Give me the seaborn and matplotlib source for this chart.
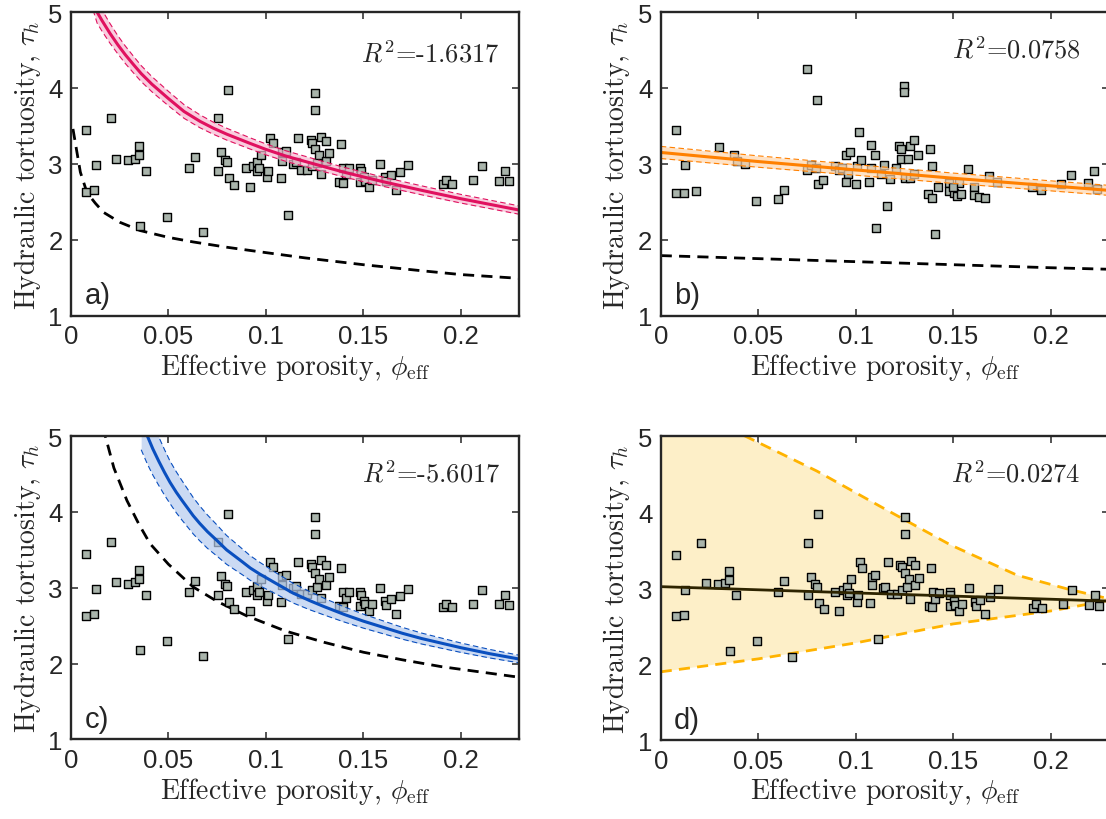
import numpy as np
import matplotlib
matplotlib.use("Agg")
import matplotlib.pyplot as plt
import seaborn as sns

# -----------------------------------
# DATA
# -----------------------------------
# samples used in panels a), c), d)
phi_eff = [0.0079, 0.0079, 0.0120, 0.0127, 0.0207, 0.0233, 0.0293, 0.0330, 0.0351, 0.0351,
           0.0384, 0.0356, 0.0495, 0.0603, 0.0635, 0.0675, 0.0755, 0.0755, 0.0772, 0.0791,
           0.0800, 0.0808, 0.0812, 0.0837, 0.0896, 0.0916, 0.0933, 0.0954, 0.0954, 0.0966,
           0.0976, 0.1007, 0.1010, 0.1021, 0.1034, 0.1075, 0.1084, 0.1101, 0.1084, 0.1113,
           0.1139, 0.1152, 0.1164, 0.1182, 0.1212, 0.1229, 0.1238, 0.1238, 0.1252, 0.1252,
           0.1252, 0.1264, 0.1272, 0.1281, 0.1284, 0.1307, 0.1307, 0.1325, 0.1377, 0.1394,
           0.1387, 0.1397, 0.1409, 0.1428, 0.1483, 0.1486, 0.1483, 0.1503, 0.1510, 0.1529,
           0.1546, 0.1584, 0.1610, 0.1616, 0.1640, 0.1666, 0.1687, 0.1729, 0.1909, 0.1925,
           0.1957, 0.2062, 0.2111, 0.2197, 0.2228, 0.2248]
tau_h = [3.44, 2.63, 2.65, 2.98, 3.60, 3.07, 3.05, 3.07, 3.11, 3.23,
         2.91, 2.18, 2.30, 2.95, 3.09, 2.10, 3.60, 2.91, 3.15, 3.05,
         3.02, 3.97, 2.81, 2.72, 2.95, 2.70, 2.97, 3.02, 2.91, 2.94,
         3.12, 2.82, 2.91, 3.34, 3.27, 2.81, 3.15, 3.17, 3.04, 2.33,
         3.00, 3.02, 3.34, 2.92, 2.92, 3.31, 3.28, 2.97, 3.93, 3.71,
         3.20, 3.01, 3.12, 2.86, 3.36, 3.30, 3.04, 3.14, 2.76, 2.75,
         3.26, 2.95, 2.86, 2.94, 2.95, 2.91, 2.76, 2.83, 2.78, 2.70,
         2.79, 3.00, 2.82, 2.77, 2.85, 2.66, 2.89, 2.99, 2.74, 2.79,
         2.74, 2.79, 2.97, 2.78, 2.91, 2.77]

# samples used in panel b)
phi_eff_b = [0.0077, 0.0077, 0.0119, 0.0126, 0.0179, 0.0297, 0.0375, 0.0389, 0.0432, 0.0491,
             0.0600, 0.0633, 0.0751, 0.0803, 0.0751, 0.0769, 0.0795, 0.0807, 0.0834, 0.0892,
             0.0913, 0.0928, 0.0952, 0.0971, 0.0962, 0.0952, 0.1003, 0.1006, 0.1017, 0.1030,
             0.1071, 0.1080, 0.1080, 0.1097, 0.1107, 0.1146, 0.1131, 0.1161, 0.1177, 0.1206,
             0.1221, 0.1233, 0.1279, 0.1300, 0.1235, 0.1267, 0.1320, 0.1380, 0.1247, 0.1247,
             0.1254, 0.1279, 0.1300, 0.1390, 0.1423, 0.1373, 0.1392, 0.1406, 0.1477, 0.1477,
             0.1506, 0.1522, 0.1540, 0.1532, 0.1501, 0.1576, 0.1609, 0.1609, 0.1634, 0.1662,
             0.1682, 0.1723, 0.1904, 0.1950, 0.2054, 0.2103, 0.2190, 0.2223, 0.2240]
tau_h_b = [3.44, 2.61, 2.62, 2.98, 2.64, 3.22, 3.11, 3.04, 3.00, 2.51,
           2.54, 2.66, 4.25, 3.84, 2.92, 2.99, 2.95, 2.74, 2.79, 2.97,
           2.92, 2.94, 3.12, 3.15, 2.87, 2.76, 2.74, 2.97, 3.42, 3.05,
           2.76, 2.94, 3.25, 3.11, 2.15, 2.99, 2.86, 2.45, 2.80, 2.95,
           3.23, 3.20, 3.23, 3.32, 3.07, 3.07, 3.11, 3.20, 4.02, 3.95,
           2.81, 2.81, 2.87, 2.97, 2.69, 2.60, 2.55, 2.08, 2.75, 2.64,
           2.62, 2.57, 2.60, 2.75, 2.70, 2.93, 2.69, 2.59, 2.56, 2.55,
           2.84, 2.76, 2.70, 2.65, 2.73, 2.85, 2.75, 2.90, 2.67]

# panel a) fitted model (with band half width) and reference model
fit_a_x = [0.010, 0.0134, 0.016, 0.020, 0.024, 0.0278, 0.032, 0.036, 0.0415, 0.050, 0.058, 0.0662,
           0.073, 0.080, 0.0918, 0.100, 0.1105, 0.1259, 0.140, 0.160, 0.180, 0.200, 0.215, 0.230]
fit_a_y = [5.30, 5.00, 4.885, 4.72, 4.57, 4.44, 4.31, 4.19, 4.05, 3.86, 3.69, 3.56,
           3.47, 3.39, 3.27, 3.19, 3.10, 2.99, 2.89, 2.765, 2.65, 2.54, 2.465, 2.39]
fit_a_hw = [0.16, 0.145, 0.14, 0.13, 0.12, 0.115, 0.11, 0.105, 0.10, 0.095, 0.09, 0.085,
            0.08, 0.078, 0.074, 0.072, 0.07, 0.067, 0.064, 0.061, 0.059, 0.057, 0.056, 0.055]
ref_a_x = [0.001, 0.0048, 0.0082, 0.0125, 0.0167, 0.025, 0.0355, 0.050,
           0.0627, 0.080, 0.0969, 0.120, 0.150, 0.180, 0.200, 0.230]
ref_a_y = [3.46, 2.89, 2.62, 2.48, 2.36, 2.23, 2.12, 2.03,
           1.97, 1.90, 1.84, 1.76, 1.67, 1.59, 1.54, 1.49]

# panel b)
fit_b_x = [0.0, 0.05, 0.10, 0.15, 0.20, 0.23]
fit_b_y = [3.15, 3.03, 2.92, 2.81, 2.71, 2.65]
fit_b_hw = [0.08, 0.075, 0.07, 0.068, 0.066, 0.066]
ref_b_x = [0.0, 0.05, 0.10, 0.15, 0.20, 0.23]
ref_b_y = [1.79, 1.75, 1.71, 1.67, 1.63, 1.61]

# panel c)
fit_c_x = [0.036, 0.0392, 0.042, 0.045, 0.048, 0.0508, 0.054, 0.057, 0.0627, 0.066,
           0.070, 0.075, 0.0798, 0.088, 0.092, 0.0969, 0.105, 0.1139, 0.1225, 0.130,
           0.140, 0.150, 0.160, 0.170, 0.180, 0.190, 0.200, 0.215, 0.230]
fit_c_y = [5.22, 5.00, 4.83, 4.67, 4.52, 4.39, 4.26, 4.15, 3.95, 3.85,
           3.74, 3.62, 3.50, 3.34, 3.26, 3.18, 3.06, 2.93, 2.83, 2.75,
           2.65, 2.56, 2.48, 2.40, 2.33, 2.27, 2.21, 2.13, 2.06]
fit_c_hw = [0.40, 0.37, 0.345, 0.32, 0.30, 0.28, 0.27, 0.26, 0.24, 0.23,
            0.22, 0.205, 0.19, 0.17, 0.162, 0.155, 0.14, 0.13, 0.12, 0.11,
            0.10, 0.092, 0.085, 0.078, 0.072, 0.067, 0.062, 0.056, 0.05]
ref_c_x = [0.0165, 0.0176, 0.022, 0.0287, 0.035, 0.0406, 0.050, 0.0627, 0.075,
           0.0901, 0.110, 0.130, 0.150, 0.170, 0.190, 0.210, 0.230]
ref_c_y = [5.12, 5.00, 4.58, 4.15, 3.83, 3.58, 3.31, 3.01, 2.82,
           2.63, 2.43, 2.28, 2.15, 2.05, 1.96, 1.89, 1.82]

# panel d) linear fit and envelope
fit_d_x = [0.0, 0.23]
fit_d_y = [3.02, 2.83]
env_up_x = [0.0, 0.0433, 0.0801, 0.1144, 0.1486, 0.1829, 0.2086, 0.230]
env_up_y = [5.50, 5.00, 4.54, 4.05, 3.57, 3.17, 2.99, 2.86]
env_lo_x = [0.0, 0.05, 0.10, 0.15, 0.20, 0.23]
env_lo_y = [1.90, 2.07, 2.28, 2.53, 2.70, 2.84]

r2_text = ["-1.6317", "0.0758", "-5.6017", "0.0274"]
panel_tags = ["a)", "b)", "c)", "d)"]
x_ticks = [0, 0.05, 0.1, 0.15, 0.2]
x_tick_labels = ["0", "0.05", "0.1", "0.15", "0.2"]
y_ticks = [1, 2, 3, 4, 5]

# -----------------------------------
# STYLE
# -----------------------------------
sns.set_style("ticks")
plt.rcParams["font.family"] = ["Liberation Sans", "DejaVu Sans"]
plt.rcParams["mathtext.fontset"] = "cm"
plt.rcParams["axes.unicode_minus"] = False
plt.rcParams["xtick.direction"] = "in"
plt.rcParams["ytick.direction"] = "in"

marker_face = "#a9b4ab"
pink = "#e0115f"
pink_fill = "#f7b9d0"
orange = "#ff8000"
orange_fill = "#ffd6ad"
blue = "#0a4fbf"
blue_fill = "#b5cbee"
gold = "#ffb300"
gold_fill = "#fdefc8"
dark = "#2e2400"

fig = plt.figure(figsize=(11.06, 8.2), dpi=100)

rects = [
    [0.0642, 0.614, 0.4053, 0.370],
    [0.5974, 0.614, 0.4053, 0.370],
    [0.0642, 0.097, 0.4053, 0.370],
    [0.5974, 0.096, 0.4053, 0.371],
]
r2_pos = [(0.955, 0.865), (0.937, 0.878), (0.957, 0.879), (0.935, 0.879)]

axes = [fig.add_axes(r) for r in rects]


def draw_points(ax, x, y):
    sns.scatterplot(x=x, y=y, ax=ax, marker="s", s=32, color=marker_face,
                    edgecolor="black", linewidth=1.0, zorder=3, legend=False)


def draw_band(ax, x, y, hw, line_color, fill_color):
    x = np.array(x)
    y = np.array(y)
    hw = np.array(hw)
    ax.fill_between(x, y - hw, y + hw, color=fill_color, alpha=0.7, lw=0, zorder=4)
    ax.plot(x, y - hw, color=line_color, lw=0.8, ls=(0, (5, 3)), zorder=5)
    ax.plot(x, y + hw, color=line_color, lw=0.8, ls=(0, (5, 3)), zorder=5)
    sns.lineplot(x=x, y=y, ax=ax, color=line_color, lw=2.2,
                 estimator=None, sort=False, zorder=6)


def draw_ref(ax, x, y):
    sns.lineplot(x=x, y=y, ax=ax, color="black", lw=2.0, linestyle=(0, (4, 2.6)),
                 estimator=None, sort=False, zorder=2)


# -----------------------------------
# PANEL a)
# -----------------------------------
ax = axes[0]
draw_points(ax, phi_eff, tau_h)
draw_ref(ax, ref_a_x, ref_a_y)
draw_band(ax, fit_a_x, fit_a_y, fit_a_hw, pink, pink_fill)

# -----------------------------------
# PANEL b)
# -----------------------------------
ax = axes[1]
draw_points(ax, phi_eff_b, tau_h_b)
draw_ref(ax, ref_b_x, ref_b_y)
draw_band(ax, fit_b_x, fit_b_y, fit_b_hw, orange, orange_fill)

# -----------------------------------
# PANEL c)
# -----------------------------------
ax = axes[2]
draw_points(ax, phi_eff, tau_h)
draw_ref(ax, ref_c_x, ref_c_y)
draw_band(ax, fit_c_x, fit_c_y, fit_c_hw, blue, blue_fill)

# -----------------------------------
# PANEL d)
# -----------------------------------
ax = axes[3]
poly_x = list(env_up_x) + list(env_lo_x)[::-1]
poly_y = list(env_up_y) + list(env_lo_y)[::-1]
ax.fill(poly_x, poly_y, color=gold_fill, lw=0, zorder=1)
ax.plot(env_up_x, env_up_y, color=gold, lw=2.0, ls=(0, (4, 2.6)), zorder=2)
ax.plot(env_lo_x, env_lo_y, color=gold, lw=2.0, ls=(0, (4, 2.6)), zorder=2)
draw_points(ax, phi_eff, tau_h)
sns.lineplot(x=fit_d_x, y=fit_d_y, ax=ax, color=dark, lw=2.0,
             estimator=None, sort=False, zorder=4)

# -----------------------------------
# COMMON FORMATTING
# -----------------------------------
for i, ax in enumerate(axes):
    ax.set_xlim(0, 0.23)
    ax.set_ylim(1, 5)
    ax.set_xticks(x_ticks)
    ax.set_xticklabels(x_tick_labels)
    ax.set_yticks(y_ticks)
    ax.tick_params(axis="both", which="both", top=True, right=True,
                   length=5, width=1.1, labelsize=18.5, pad=6, color="#262626")
    for sp in ax.spines.values():
        sp.set_linewidth(1.7)
        sp.set_color("#262626")
        sp.set_visible(True)
        sp.set_zorder(10)
    ax.set_xlabel(r"Effective porosity, $\phi_{\rm eff}$", family="cmr10",
                  fontsize=20, labelpad=2)
    ax.set_ylabel(r"Hydraulic tortuosity, $\tau_h$", family="cmr10",
                  fontsize=20, labelpad=4)
    ax.text(r2_pos[i][0], r2_pos[i][1], r"$R^2$=" + r2_text[i], family="cmr10",
            fontsize=19, ha="right", va="center", transform=ax.transAxes, zorder=11)
    ax.text(0.03, 0.068, panel_tags[i], fontsize=21, ha="left", va="center",
            transform=ax.transAxes, zorder=11)

plt.savefig("out.png", dpi=100)
